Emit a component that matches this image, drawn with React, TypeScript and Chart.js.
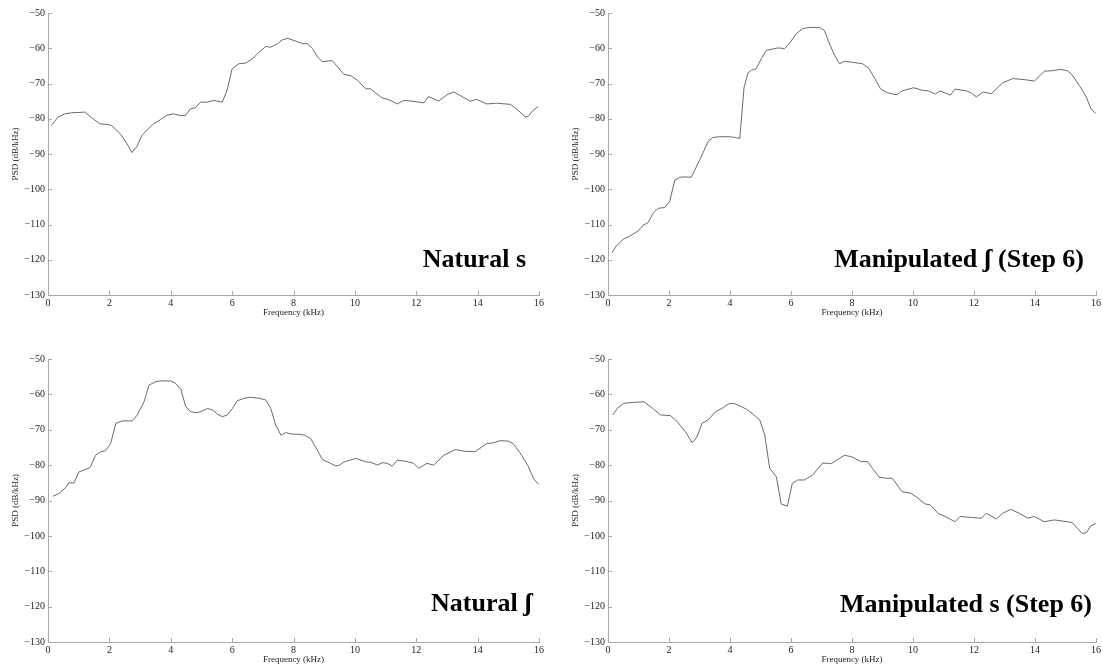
import React, { useEffect, useRef } from "react";
import { Chart, registerables } from "chart.js";

Chart.register(...registerables);

// ---- Data (frequency in kHz, PSD in dB/kHz) ----
const natSFreq = [0.11,0.33,0.55,0.76,1.04,1.2,1.42,1.69,1.97,2.07,2.35,2.57,2.73,2.89,3.06,3.28,3.44,3.66,3.88,4.09,4.31,4.48,4.64,4.8,4.97,5.19,5.4,5.68,5.84,6.0,6.22,6.44,6.66,6.88,7.1,7.26,7.48,7.64,7.81,8.02,8.29,8.45,8.62,8.78,8.94,9.26,9.43,9.64,9.87,10.09,10.35,10.51,10.68,10.89,11.11,11.38,11.59,11.86,12.25,12.4,12.73,13.0,13.22,13.49,13.76,13.97,14.3,14.62,15.06,15.27,15.55,15.65,15.82,15.98];
const natSPsd = [-81.9,-79.5,-78.6,-78.3,-78.2,-78.1,-79.7,-81.4,-81.7,-81.9,-84.2,-87,-89.6,-88,-84.7,-82.8,-81.4,-80.3,-79,-78.6,-79.1,-79.1,-77.2,-76.9,-75.3,-75.3,-74.8,-75.3,-71.8,-65.8,-64.4,-64.2,-63,-61.1,-59.5,-59.7,-58.7,-57.6,-57.2,-57.8,-58.7,-58.7,-60.1,-62.5,-63.8,-63.5,-65.2,-67.4,-67.8,-69.1,-71.5,-71.5,-72.7,-74.1,-74.6,-75.8,-74.8,-75,-75.5,-73.7,-75,-73.2,-72.4,-73.7,-75,-74.5,-75.8,-75.6,-75.9,-77.2,-79.5,-79.3,-77.5,-76.5];

const manEshFreq = [0.13,0.27,0.49,0.71,0.98,1.15,1.31,1.48,1.64,1.86,2.02,2.19,2.35,2.51,2.73,2.95,3.11,3.28,3.44,3.66,3.99,4.15,4.32,4.46,4.59,4.7,4.86,5.03,5.19,5.41,5.57,5.79,5.96,6.17,6.39,6.61,6.94,7.1,7.26,7.43,7.59,7.75,8.02,8.35,8.56,8.78,8.94,9.16,9.38,9.49,9.64,10.02,10.29,10.51,10.73,10.89,11.22,11.38,11.76,11.91,12.08,12.3,12.57,12.94,13.27,13.65,13.98,14.31,14.53,14.85,15.07,15.23,15.45,15.67,15.83,15.99];
const manEshPsd = [-118,-116.1,-114.2,-113.3,-111.9,-110.2,-109.5,-106.8,-105.4,-105.2,-103.5,-97.4,-96.6,-96.5,-96.6,-92.7,-89.8,-86.5,-85.3,-85.1,-85.1,-85.3,-85.6,-71.2,-67,-66.2,-65.8,-62.9,-60.6,-60.2,-59.9,-60.1,-58.5,-55.9,-54.4,-54.1,-54.1,-55,-58.7,-62,-64.4,-63.7,-64,-64.4,-65.8,-69.1,-71.6,-72.6,-73.1,-73.1,-72.1,-71.2,-71.9,-72.1,-73,-72.1,-73.3,-71.6,-72.1,-72.7,-73.8,-72.4,-72.9,-69.8,-68.6,-68.9,-69.3,-66.5,-66.4,-66,-66.4,-67.7,-70.5,-73.6,-77.1,-78.5];

const natEshFreq = [0.16,0.36,0.58,0.68,0.85,1.01,1.17,1.37,1.55,1.72,1.88,2.04,2.21,2.42,2.75,2.91,3.13,3.29,3.51,3.67,4.0,4.16,4.33,4.49,4.65,4.82,4.98,5.2,5.36,5.52,5.68,5.85,6.01,6.17,6.39,6.61,6.88,7.1,7.26,7.42,7.59,7.75,7.91,8.18,8.35,8.56,8.78,8.94,9.16,9.37,9.48,9.65,10.03,10.36,10.52,10.74,10.89,11.06,11.22,11.38,11.65,11.92,12.08,12.35,12.57,12.9,13.27,13.6,13.92,14.3,14.51,14.73,15.0,15.16,15.38,15.65,15.82,15.98];
const natEshPsd = [-88.8,-88,-86.3,-85,-85,-81.9,-81.4,-80.7,-77.2,-76.2,-75.9,-73.9,-68.2,-67.5,-67.5,-65.8,-62.1,-57.4,-56.4,-56.2,-56.2,-56.9,-58.6,-63.5,-64.9,-65.2,-64.9,-64,-64.4,-65.6,-66.3,-65.8,-64,-61.8,-61.1,-60.8,-61.1,-61.6,-64,-68.7,-71.5,-70.8,-71.2,-71.3,-71.5,-72.5,-75.8,-78.4,-79.3,-80.2,-80.1,-79.1,-78.1,-79.1,-79.2,-80,-79.3,-79.5,-80.3,-78.6,-78.9,-79.5,-80.9,-79.5,-80,-77.2,-75.6,-76.1,-76.2,-73.9,-73.7,-73.1,-73.2,-73.9,-76.5,-80.3,-83.8,-85.4];

const manSFreq = [0.16,0.3,0.52,0.8,1.18,1.4,1.72,2.05,2.27,2.54,2.76,2.92,3.08,3.3,3.52,3.73,3.95,4.11,4.33,4.54,4.76,4.98,5.14,5.3,5.52,5.68,5.88,6.04,6.22,6.44,6.71,7.04,7.2,7.32,7.48,7.75,7.97,8.3,8.51,8.67,8.89,9.11,9.32,9.64,9.91,10.13,10.4,10.56,10.83,11.05,11.38,11.54,11.92,12.24,12.4,12.73,12.94,13.21,13.48,13.76,13.98,14.3,14.63,15.07,15.23,15.39,15.55,15.69,15.82,15.99];
const manSPsd = [-65.8,-64,-62.5,-62.3,-62.1,-63.5,-65.8,-66,-67.7,-70.6,-73.7,-72,-68.2,-67.1,-64.9,-64,-62.7,-62.5,-63.3,-64.2,-65.6,-67.3,-71.5,-80.9,-83.3,-91,-91.6,-85.2,-84.2,-84.2,-82.8,-79.4,-79.5,-79.6,-78.7,-77.2,-77.6,-79,-79,-80.9,-83.4,-83.7,-83.7,-87.5,-87.9,-89.1,-91,-91.2,-93.7,-94.5,-96,-94.5,-94.8,-95,-93.6,-95.2,-93.6,-92.5,-93.6,-95,-94.5,-96,-95.5,-96,-96.3,-97.9,-99.3,-99.1,-97.2,-96.5];

const panelTitles = ["Natural s", "Manipulated \u0283 (Step 6)", "Natural \u0283", "Manipulated s (Step 6)"];
const xAxisTitle = "Frequency (kHz)";
const yAxisTitle = "PSD (dB/kHz)";
const xMin = 0, xMax = 16, xStep = 2;
const yMin = -130, yMax = -50, yStep = 10;

const SERIF = "'Liberation Serif', 'Times New Roman', serif";

type PanelSpec = {
  freq: number[];
  psd: number[];
  title: string;
  left: number; top: number; width: number; height: number;
  padTop: number; padRight: number;
  xAxisH: number; xTitlePad: number;
  labelDx: number; labelDy: number;
};

const panels: PanelSpec[] = [
  { freq: natSFreq, psd: natSPsd, title: panelTitles[0], left: 0, top: 0, width: 551, height: 333, padTop: 13, padRight: 12, xAxisH: 38, xTitlePad: 15, labelDx: 13, labelDy: 28 },
  { freq: manEshFreq, psd: manEshPsd, title: panelTitles[1], left: 560, top: 0, width: 543, height: 333, padTop: 13, padRight: 4, xAxisH: 38, xTitlePad: 15, labelDx: 12, labelDy: 28 },
  { freq: natEshFreq, psd: natEshPsd, title: panelTitles[2], left: 0, top: 346, width: 551, height: 320, padTop: 13, padRight: 12, xAxisH: 24, xTitlePad: 1, labelDx: 7, labelDy: 31 },
  { freq: manSFreq, psd: manSPsd, title: panelTitles[3], left: 560, top: 346, width: 543, height: 320, padTop: 13, padRight: 4, xAxisH: 24, xTitlePad: 1, labelDx: 4, labelDy: 30 },
];

const fmt = (v: number) => (v < 0 ? "\u2212" + Math.abs(v) : String(v));

function Panel({ spec }: { spec: PanelSpec }) {
  const ref = useRef<HTMLCanvasElement | null>(null);
  useEffect(() => {
    if (!ref.current) return;
    const innerTicks = {
      id: "innerTicks",
      afterDatasetsDraw(chart: any) {
        const ctx = chart.ctx;
        const area = chart.chartArea;
        const xs = chart.scales.x;
        const ys = chart.scales.y;
        ctx.save();
        ctx.strokeStyle = "#a8a8a8";
        ctx.lineWidth = 1;
        ctx.beginPath();
        xs.ticks.forEach((t: any) => {
          const px = Math.round(xs.getPixelForValue(t.value)) + 0.5;
          ctx.moveTo(px, area.bottom);
          ctx.lineTo(px, area.bottom - 4);
        });
        ys.ticks.forEach((t: any) => {
          const py = Math.round(ys.getPixelForValue(t.value)) + 0.5;
          ctx.moveTo(area.left, py);
          ctx.lineTo(area.left + 4, py);
        });
        ctx.stroke();
        ctx.restore();
      },
    };
    const panelLabel = {
      id: "panelLabel",
      afterDraw(chart: any) {
        const ctx = chart.ctx;
        const area = chart.chartArea;
        ctx.save();
        ctx.font = `bold 26px ${SERIF}`;
        ctx.fillStyle = "#000";
        ctx.textAlign = "right";
        ctx.textBaseline = "alphabetic";
        ctx.fillText(spec.title, area.right - spec.labelDx, area.bottom - spec.labelDy);
        ctx.restore();
      },
    };
    const chart = new Chart(ref.current, {
      type: "line",
      data: {
        datasets: [
          {
            data: spec.freq.map((f, i) => ({ x: f, y: spec.psd[i] })),
            borderColor: "#6a6a6a",
            borderWidth: 1,
            pointRadius: 0,
            tension: 0,
            fill: false,
          },
        ],
      },
      options: {
        responsive: false,
        animation: false,
        layout: { padding: { top: spec.padTop, right: spec.padRight, left: 0, bottom: 0 } },
        plugins: { legend: { display: false }, tooltip: { enabled: false } },
        scales: {
          x: {
            type: "linear",
            min: xMin,
            max: xMax,
            afterFit: (s: any) => { s.height = spec.xAxisH; },
            grid: { display: false, drawTicks: false, tickLength: 0 },
            border: { display: true, color: "#a8a8a8", width: 1 },
            ticks: {
              stepSize: xStep,
              padding: 2,
              color: "#222",
              font: { family: SERIF, size: 10 },
              maxRotation: 0,
              callback: (v: any) => fmt(Number(v)),
            },
            title: {
              display: true,
              text: xAxisTitle,
              color: "#222",
              font: { family: SERIF, size: 9 },
              padding: { top: 0, bottom: spec.xTitlePad },
            },
          },
          y: {
            type: "linear",
            min: yMin,
            max: yMax,
            afterFit: (s: any) => { s.width = 48; },
            grid: { display: false, drawTicks: false, tickLength: 0 },
            border: { display: true, color: "#a8a8a8", width: 1 },
            ticks: {
              stepSize: yStep,
              padding: 3,
              color: "#222",
              font: { family: SERIF, size: 10 },
              callback: (v: any) => fmt(Number(v)),
            },
            title: {
              display: true,
              text: yAxisTitle,
              color: "#222",
              font: { family: SERIF, size: 9 },
              padding: { top: 10, bottom: 0 },
            },
          },
        },
      } as any,
      plugins: [innerTicks, panelLabel],
    });
    return () => chart.destroy();
  }, [spec]);
  return (
    <canvas
      ref={ref}
      width={spec.width}
      height={spec.height}
      style={{ position: "absolute", left: spec.left, top: spec.top, width: spec.width, height: spec.height }}
    />
  );
}

export default function App() {
  return (
    <div style={{ position: "absolute", left: 0, top: 0, width: 1103, height: 666, background: "#fff" }}>
      {panels.map((p, i) => (
        <Panel key={i} spec={p} />
      ))}
    </div>
  );
}
